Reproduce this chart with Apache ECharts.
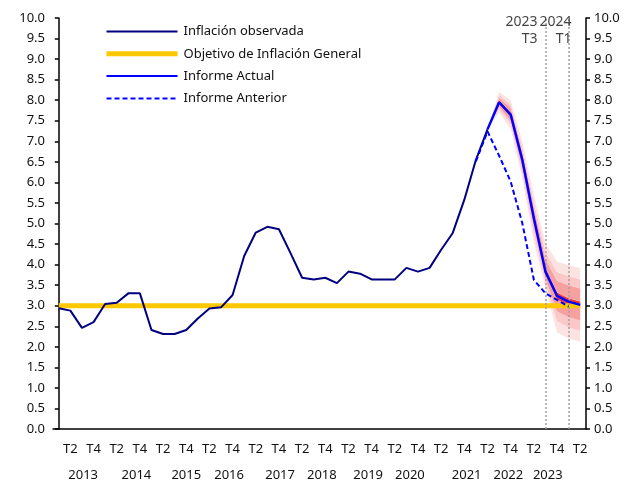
<!DOCTYPE html>
<html>
<head>
<meta charset="utf-8">
<script src="https://cdn.jsdelivr.net/npm/echarts@6/dist/echarts.min.js"></script>
<style>
  html, body { margin: 0; padding: 0; background: #fff; }
  #chart { width: 633px; height: 482px; }
</style>
</head>
<body>
<div id="chart"></div>
<script>
// trimestres 2013T1 .. 2024T2
var quarters = [];
for (var y = 2013; y <= 2024; y++) {
  for (var q = 1; q <= 4; q++) {
    if (y === 2024 && q > 2) break;
    quarters.push(y + 'T' + q);
  }
}

var yearLabels = ['2013', '2014', '2015', '2016', '2017', '2018', '2019', '2020', '2021', '2022', '2023'];
var yearPos = [2.1, 6.7, 11.0, 14.7, 19.1, 22.7, 26.7, 30.3, 35.2, 38.8, 42.2];

var observada = [2.94, 2.88, 2.46, 2.60, 3.04, 3.07, 3.30, 3.30, 2.41, 2.31, 2.31, 2.41, 2.69, 2.93, 2.96, 3.26,
  4.21, 4.78, 4.92, 4.86, 4.28, 3.68, 3.64, 3.68, 3.55, 3.83, 3.78, 3.64, 3.64, 3.64, 3.92, 3.83,
  3.92, 4.36, 4.77, 5.58, 6.55, 7.29];
var objetivo = 3.0;
// desde 2022T2 (indice 37)
var actual = [7.29, 7.95, 7.65, 6.55, 5.13, 3.83, 3.24, 3.10, 3.02];
// desde 2022T1 (indice 36)
var anterior = [6.51, 7.24, 6.65, 6.02, 5.01, 3.63, 3.30, 3.14, 2.98];

// abanico, desde 2022T2
var fanLo4 = [7.29, 7.70, 7.30, 6.10, 4.55, 3.43, 2.35, 2.20, 2.12];
var fanLo3 = [7.29, 7.78, 7.41, 6.23, 4.73, 3.56, 2.62, 2.47, 2.39];
var fanLo2 = [7.29, 7.84, 7.50, 6.35, 4.90, 3.66, 2.86, 2.72, 2.64];
var fanLo1 = [7.29, 7.91, 7.60, 6.50, 5.07, 3.78, 3.15, 3.01, 2.93];
var fanHi1 = [7.29, 7.99, 7.70, 6.60, 5.19, 3.90, 3.32, 3.18, 3.10];
var fanHi2 = [7.29, 8.06, 7.81, 6.75, 5.39, 4.14, 3.61, 3.50, 3.42];
var fanHi3 = [7.29, 8.13, 7.90, 6.87, 5.53, 4.31, 3.82, 3.72, 3.64];
var fanHi4 = [7.29, 8.20, 8.00, 7.00, 5.70, 4.52, 4.07, 3.99, 3.91];

var fanStart = 37, antStart = 36;

function pad(arr, start) {
  var out = [];
  for (var i = 0; i < quarters.length; i++) {
    var k = i - start;
    out.push(k >= 0 && k < arr.length ? arr[k] : '-');
  }
  return out;
}
function diff(a, b) {
  return a.map(function (v, i) { return +(v - b[i]).toFixed(3); });
}

var fanLevels = [
  { data: fanLo4, color: 'rgba(0,0,0,0)' },
  { data: diff(fanLo3, fanLo4), color: '#fde2e2' },
  { data: diff(fanLo2, fanLo3), color: '#fbc8c8' },
  { data: diff(fanLo1, fanLo2), color: '#f7a0a0' },
  { data: diff(fanHi1, fanLo1), color: '#f03c3c' },
  { data: diff(fanHi2, fanHi1), color: '#f7a0a0' },
  { data: diff(fanHi3, fanHi2), color: '#fbc8c8' },
  { data: diff(fanHi4, fanHi3), color: '#fde2e2' }
];

var font = 'Noto Sans';
var series = [];
fanLevels.forEach(function (lv, i) {
  series.push({
    name: 'fan' + i,
    type: 'line',
    stack: 'fan',
    data: pad(lv.data, fanStart),
    symbol: 'none',
    lineStyle: { width: 0, opacity: 0 },
    areaStyle: i === 0 ? { opacity: 0 } : { color: lv.color, opacity: 1 },
    silent: true,
    z: 1
  });
});

series.push({
  name: 'Objetivo de Inflación General',
  type: 'line',
  data: quarters.map(function () { return objetivo; }),
  symbol: 'none',
  lineStyle: { color: '#ffc800', width: 5 },
  itemStyle: { color: '#ffc800' },
  z: 3
});
series.push({
  name: 'Inflación observada',
  type: 'line',
  data: pad(observada, 0),
  symbol: 'none',
  lineStyle: { color: '#000080', width: 2 },
  itemStyle: { color: '#000080' },
  z: 4
});
series.push({
  name: 'Informe Anterior',
  type: 'line',
  data: pad(anterior, antStart),
  symbol: 'none',
  lineStyle: { color: '#0000ff', width: 2, type: [5, 3] },
  itemStyle: { color: '#0000ff' },
  z: 5
});
series.push({
  name: 'Informe Actual',
  type: 'line',
  data: pad(actual, fanStart),
  symbol: 'none',
  lineStyle: { color: '#0000ff', width: 2.5 },
  itemStyle: { color: '#0000ff' },
  z: 6,
  markLine: {
    silent: true,
    symbol: 'none',
    label: { show: false },
    lineStyle: { color: '#a0a0a0', type: [2, 2], width: 1.5 },
    data: [{ xAxis: '2023T3' }, { xAxis: '2024T1' }]
  }
});
// etiquetas de las lineas verticales
series.push({
  name: 'marcas',
  type: 'scatter',
  symbolSize: 0,
  silent: true,
  data: [
    { value: ['2023T3', 10], label: { formatter: '2023\nT3', distance: 8 } },
    { value: ['2024T1', 10], label: { formatter: '2024\nT1', distance: -3 } }
  ],
  label: {
    show: true, position: 'left', align: 'right', offset: [0, 13],
    fontFamily: font, fontSize: 14, color: '#111', lineHeight: 17
  },
  z: 7
});

var yAxisBase = {
  type: 'value', min: 0, max: 10, interval: 0.5,
  splitLine: { show: false },
  axisLine: { show: true, lineStyle: { color: '#000', width: 1.5 } },
  axisTick: { show: true, length: 4, lineStyle: { color: '#000', width: 1.5 } },
  axisLabel: {
    fontFamily: font, fontSize: 13, color: '#111', margin: 8,
    formatter: function (v) { return v.toFixed(1); }
  }
};

var chart = echarts.init(document.getElementById('chart'));
chart.setOption({
  animation: false,
  backgroundColor: '#fff',
  grid: { left: 53, right: 47, top: 18, bottom: 53 },
  legend: {
    orient: 'vertical', left: 104, top: 25, padding: 0,
    itemWidth: 71, itemHeight: 14, itemGap: 9.3,
    itemStyle: { opacity: 0 },
    data: [
      { name: 'Inflación observada', lineStyle: { width: 2 } },
      { name: 'Objetivo de Inflación General', lineStyle: { width: 5 } },
      { name: 'Informe Actual', lineStyle: { width: 2 } },
      { name: 'Informe Anterior', lineStyle: { width: 2 } }
    ],
    textStyle: { fontFamily: font, fontSize: 13, color: '#111', padding: [0, 0, 0, 1] }
  },
  xAxis: [{
    type: 'category',
    data: quarters,
    boundaryGap: true,
    axisLine: { lineStyle: { color: '#000', width: 1.5 } },
    axisTick: { show: false },
    axisLabel: {
      fontFamily: font, fontSize: 13, color: '#111', margin: 14,
      interval: function (i) { return i % 2 === 1; },
      formatter: function (v) { return v.slice(4); }
    }
  }, {
    type: 'value',
    position: 'bottom',
    min: -0.5, max: 45.5,
    axisLine: { show: false },
    axisTick: { show: false },
    splitLine: { show: false },
    axisLabel: {
      fontFamily: font, fontSize: 13, color: '#111', margin: 40,
      customValues: yearPos,
      formatter: function (v) {
        var k = yearPos.indexOf(v);
        return k >= 0 ? yearLabels[k] : '';
      }
    }
  }],
  yAxis: [
    Object.assign({}, yAxisBase, { position: 'left' }),
    Object.assign({}, yAxisBase, { position: 'right' })
  ],
  series: series
});
</script>
</body>
</html>
